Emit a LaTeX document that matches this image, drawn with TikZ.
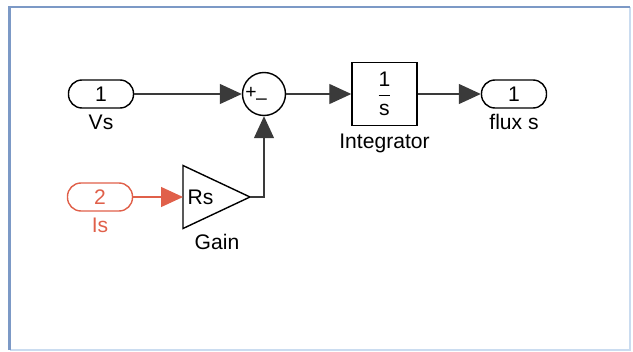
\documentclass[tikz,border=0pt]{standalone}
\usepackage{amsmath,xcolor,fontspec}
\setmainfont{Liberation Sans}
\usetikzlibrary{arrows.meta,positioning,calc}
\definecolor{wire}{HTML}{3A3A3A}
\definecolor{isred}{HTML}{E0604A}
\definecolor{frameblue}{HTML}{7C99C6}
\definecolor{framelite}{HTML}{CADCF0}
\tikzset{port/.style={draw=black,line width=0.8pt,rounded corners=2.7mm,minimum width=1.3cm,minimum height=0.56cm,inner sep=0pt,font=\fontsize{12}{14}\selectfont},blockbox/.style={draw=black,line width=0.8pt,minimum width=1.3cm,minimum height=1.26cm,inner sep=0pt},arrow/.style={-{Triangle[length=4.4mm,width=4mm]},line width=0.7pt,draw=wire},lab/.style={font=\fontsize{12}{14}\selectfont,inner sep=1pt}}
\begin{document}
\begin{tikzpicture}
\useasboundingbox (0,0) rectangle (12.66,-7.04);
\draw[framelite,line width=1pt] (12.6,-0.14)--(12.6,-7.0)--(0.19,-7.0);
\draw[frameblue,line width=1.2pt] (0.19,-7.0)--(0.19,-0.14)--(12.6,-0.14);
\node[port] (vs) at (2.02,-1.88) {1};
\node[lab,below=0.08cm of vs] (vslab) {Vs};
\node[port,draw=isred,text=isred] (is) at (2.0,-3.94) {2};
\node[lab,text=isred,below=0.08cm of is] (islab) {Is};
\node[circle,draw=black,line width=0.8pt,minimum size=0.86cm,inner sep=0pt] (sum) at (5.28,-1.88) {};
\node[font=\fontsize{11}{12}\selectfont,inner sep=0pt] (plus) at (5.02,-1.85) {+};
\node[font=\fontsize{11}{12}\selectfont,inner sep=0pt] (minus) at (5.23,-2.03) {\textendash};
\node[blockbox] (integ) at (7.69,-1.88) {\fontsize{12}{14}\selectfont$\dfrac{\text{1}}{\text{s}}$};
\node[lab,below=0.12cm of integ] (integlab) {Integrator};
\node[port] (flux) at (10.28,-1.88) {1};
\node[lab,below=0.06cm of flux] (fluxlab) {flux s};
% gain block
\draw[black,line width=0.8pt] (3.66,-3.31)--(5.0,-3.94)--(3.66,-4.57)--cycle;
\coordinate (gin) at (3.66,-3.94);
\coordinate (gout) at (5.0,-3.94);
\node[lab,right=0.05cm of gin] (rs) {Rs};
\node[lab] (gainlab) at (4.34,-4.84) {Gain};
\draw[arrow](vs.east)--(sum.west);
\draw[arrow](sum.east)--(integ.west);
\draw[arrow](integ.east)--(flux.west);
\draw[arrow,draw=isred,fill=isred](is.east)--(gin);
\draw[arrow](gout)-|(sum.south);
\end{tikzpicture}
\end{document}
